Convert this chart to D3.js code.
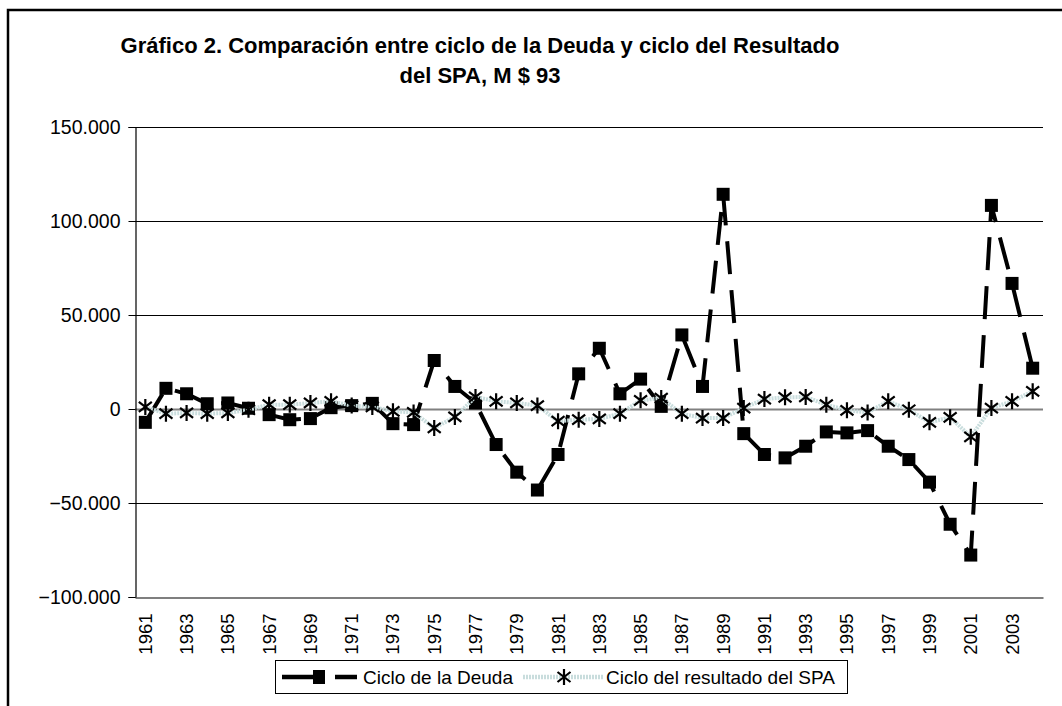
<!DOCTYPE html>
<html>
<head>
<meta charset="utf-8">
<script src="https://cdn.jsdelivr.net/npm/d3@7"></script>
<style>
  body { margin: 0; background: #fff; }
  text { font-family: Arial, "Liberation Sans", sans-serif; }
</style>
</head>
<body>
<svg id="chart" width="1062" height="706"></svg>
<script>
// years on the category axis
var years = d3.range(1961, 2005);
// Ciclo de la Deuda (M $ 93)
var deuda = [-7100, 11000, 8100, 2800, 3200, 400, -3000, -5700, -5100, 700,
    1800, 3000, -7800, -8300, 25800, 12000, 3200, -18900, -33600, -43100,
    -24200, 18700, 32300, 8100, 15900, 1400, 39400, 12000, 114200, -13100,
    -24200, -26000, -19800, -12200, -12700, -11500, -19800, -26900, -38900, -61300,
    -77700, 108300, 66800, 21700];
// Ciclo del resultado del SPA
var spa = [1100, -2500, -2100, -2500, -2100, -400, 2300, 2300, 3200, 4100,
    1800, 1100, -1200, -1800, -10100, -4200, 6400, 4100, 3200, 1800,
    -6500, -5700, -5300, -2500, 4600, 5800, -2500, -4800, -4800, 500,
    5300, 6200, 6400, 2300, -700, -1800, 4100, -400, -7100, -4400,
    -14800, 500, 4100, 9400];
var yTicks = [-100000, -50000, 0, 50000, 100000, 150000];
var seriesNames = ["Ciclo de la Deuda", "Ciclo del resultado del SPA"];

var svg = d3.select("#chart"),
    plot = {left: 135, right: 1043, top: 127, bottom: 597};

var es = d3.formatLocale({decimal: ",", thousands: ".", grouping: [3], currency: ["$", ""]});
var fmt = es.format(",.0f");

var x = d3.scaleBand().domain(years).range([plot.left, plot.right]),
    y = d3.scaleLinear().domain([-100000, 150000]).range([plot.bottom, plot.top]);

function cx(i) { return x(years[i]) + x.bandwidth() / 2; }

// outer frame (only top and left edges visible)
svg.append("path")
    .attr("d", "M8,706V10H1062")
    .attr("fill", "none")
    .attr("stroke", "#000")
    .attr("stroke-width", 2.5);

// title
var title = svg.append("text")
    .attr("text-anchor", "middle")
    .attr("font-weight", "bold")
    .attr("font-size", 22);
title.append("tspan").attr("x", 480).attr("y", 53)
    .text("Gráfico 2. Comparación entre ciclo de la Deuda y ciclo del Resultado");
title.append("tspan").attr("x", 480).attr("y", 83)
    .text("del SPA, M $ 93");

// gridlines
svg.append("g").selectAll("line")
    .data(yTicks.filter(function (d) { return d !== -100000; }))
    .enter().append("line")
    .attr("x1", plot.left).attr("x2", plot.right)
    .attr("y1", function (d) { return Math.round(y(d)) + 0.5; })
    .attr("y2", function (d) { return Math.round(y(d)) + 0.5; })
    .attr("stroke", function (d) { return d === 0 ? "#808080" : "#000"; })
    .attr("stroke-width", function (d) { return d === 0 ? 2 : 1.2; });

// y axis
var yAxis = d3.axisLeft(y).tickValues(yTicks).tickFormat(fmt).tickSize(7).tickPadding(8);
svg.append("g")
    .attr("transform", "translate(" + (plot.left + 0.5) + ",0)")
    .call(yAxis)
    .call(function (g) {
        g.select(".domain").attr("stroke", "#000").attr("stroke-width", 1.2);
        g.selectAll(".tick line").attr("stroke", "#000");
        g.selectAll("text").attr("font-size", 19.5).attr("fill", "#000")
            .attr("font-family", "Arial, 'Liberation Sans', sans-serif");
    });

// x axis (labels every other year, rotated)
var xAxis = d3.axisBottom(x)
    .tickValues(years.filter(function (d, i) { return i % 2 === 0; }))
    .tickSize(0).tickPadding(0);
svg.append("g")
    .attr("transform", "translate(0," + (plot.bottom + 0.5) + ")")
    .call(xAxis)
    .call(function (g) {
        g.select(".domain").attr("stroke", "#555").attr("stroke-width", 1.5);
        g.selectAll("text")
            .attr("font-size", 18.5).attr("fill", "#000")
            .attr("font-family", "Arial, 'Liberation Sans', sans-serif")
            .attr("text-anchor", "end")
            .attr("dy", "0.35em")
            .attr("transform", "translate(0,16) rotate(-90)");
    });

var lineGen = d3.line()
    .x(function (d, i) { return cx(i); })
    .y(function (d) { return y(d); });

// Deuda line + markers
svg.append("path")
    .datum(deuda)
    .attr("d", lineGen)
    .attr("fill", "none")
    .attr("stroke", "#000")
    .attr("stroke-width", 4)
    .attr("stroke-dasharray", "33,16");

svg.append("g").selectAll("rect")
    .data(deuda)
    .enter().append("rect")
    .attr("x", function (d, i) { return cx(i) - 6.5; })
    .attr("y", function (d) { return y(d) - 6.5; })
    .attr("width", 13).attr("height", 13)
    .attr("fill", "#000");

// SPA line + star markers
svg.append("path")
    .datum(spa)
    .attr("d", lineGen)
    .attr("fill", "none")
    .attr("stroke", "#c9dddd")
    .attr("stroke-width", 4)
    .attr("stroke-dasharray", "2,1");

var star = "M0,-8V8M-6.5,-5L6.5,5M-6.5,5L6.5,-5";
svg.append("g").selectAll("path")
    .data(spa)
    .enter().append("path")
    .attr("d", star)
    .attr("transform", function (d, i) { return "translate(" + cx(i) + "," + y(d) + ")"; })
    .attr("fill", "none")
    .attr("stroke", "#000")
    .attr("stroke-width", 2.2);

// legend
var legend = svg.append("g");
legend.append("rect")
    .attr("x", 275.5).attr("y", 660.5)
    .attr("width", 572).attr("height", 33)
    .attr("fill", "#fff").attr("stroke", "#000");
var ly = 677;
legend.append("line").attr("x1", 282).attr("x2", 319).attr("y1", ly).attr("y2", ly)
    .attr("stroke", "#000").attr("stroke-width", 4.5);
legend.append("line").attr("x1", 335).attr("x2", 357).attr("y1", ly).attr("y2", ly)
    .attr("stroke", "#000").attr("stroke-width", 4.5);
legend.append("rect").attr("x", 313).attr("y", ly - 7).attr("width", 12).attr("height", 14)
    .attr("fill", "#000");
legend.append("text").attr("x", 363).attr("y", ly).attr("dy", "0.35em")
    .attr("font-size", 19).text(seriesNames[0]);
legend.append("line").attr("x1", 523).attr("x2", 603).attr("y1", ly).attr("y2", ly)
    .attr("stroke", "#c9dddd").attr("stroke-width", 4.5).attr("stroke-dasharray", "2,1");
legend.append("path").attr("d", star).attr("transform", "translate(564," + ly + ")")
    .attr("fill", "none").attr("stroke", "#000").attr("stroke-width", 2.2);
legend.append("text").attr("x", 606).attr("y", ly).attr("dy", "0.35em")
    .attr("font-size", 19).text(seriesNames[1]);
</script>
</body>
</html>
